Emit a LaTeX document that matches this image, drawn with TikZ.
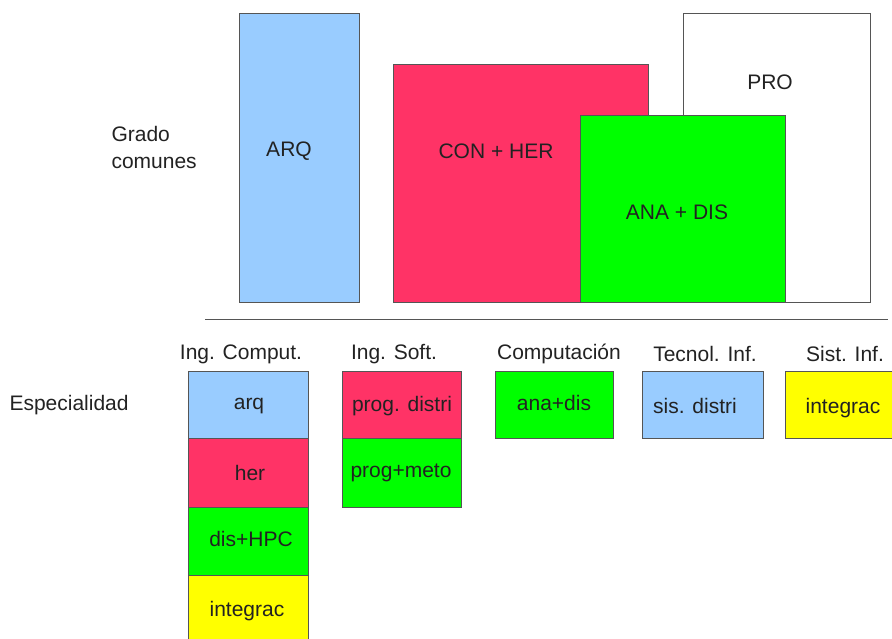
\documentclass[tikz,border=0pt]{standalone}
\usepackage{fontspec}
\setmainfont{Liberation Sans}
\definecolor{azul}{HTML}{99CCFF}
\definecolor{rojo}{HTML}{FF3366}
\definecolor{verde}{HTML}{00FF00}
\definecolor{amarillo}{HTML}{FFFF00}
\definecolor{borde}{HTML}{555555}
\definecolor{texto}{HTML}{222222}

\begin{document}
\begin{tikzpicture}[x=1pt, y=-1pt,
    caja/.style={draw=borde, line width=0.8pt},
    etiqueta/.style={text=texto, font=\fontsize{21}{25}\selectfont},
    nota/.style={text=texto, font=\fontsize{21}{27}\selectfont, align=left, anchor=west}]
			\clip (0,0) rectangle (892,638);

			% Grado: bloques comunes
			\filldraw[caja, fill=azul] (239,13) rectangle (359,302);
			\node[etiqueta] (arq) at (289,151) {ARQ};
			\filldraw[caja, fill=white] (683,13) rectangle (870,302);
			\node[etiqueta] (pro) at (770,82) {PRO};
			\filldraw[caja, fill=rojo] (393,64) rectangle (648,302);
			\node[etiqueta] (conher) at (496,151) {CON + HER};
			\filldraw[caja, fill=verde] (580,115) rectangle (785,302);
			\node[etiqueta] (anadis) at (677,212) {ANA + DIS};
			\node[nota] (grado) at (108,147) {Grado\\comunes};

			% Separador
			\draw[borde, line width=0.8pt] (205,319) -- (888,319);

			% Especialidades
			\node[nota] (esp) at (6,405) {Especialidad};
			\node[etiqueta] (ic) at (241,354) {Ing. Comput.};
			\node[etiqueta] (is) at (394,354) {Ing. Soft.};
			\node[etiqueta] (co) at (559,354) {Computación};
			\node[etiqueta] (ti) at (705,354) {Tecnol. Inf.};
			\node[etiqueta] (si) at (845,354) {Sist. Inf.};

			% Ing. Comput.
			\filldraw[caja, fill=azul] (188,371) rectangle (308,438);
			\node[etiqueta] (icarq) at (249,406) {arq};
			\filldraw[caja, fill=rojo] (188,438) rectangle (308,507);
			\node[etiqueta] (icher) at (250,473) {her};
			\filldraw[caja, fill=verde] (188,507) rectangle (308,575);
			\node[etiqueta] (icdis) at (251,539) {dis+HPC};
			\filldraw[caja, fill=amarillo] (188,575) rectangle (308,650);
			\node[etiqueta] (icint) at (247,611) {integrac};

			% Ing. Soft.
			\filldraw[caja, fill=rojo] (342,371) rectangle (461,438);
			\node[etiqueta] (isprog) at (402,406) {prog. distri};
			\filldraw[caja, fill=verde] (342,438) rectangle (461,507);
			\node[etiqueta] (ismeto) at (401,473) {prog+meto};

			% Resto
			\filldraw[caja, fill=verde] (495,371) rectangle (613,438);
			\node[etiqueta] (coana) at (554,403) {ana+dis};
			\filldraw[caja, fill=azul] (642,371) rectangle (763,438);
			\node[etiqueta] (tisis) at (695,406) {sis. distri};
			\filldraw[caja, fill=amarillo] (785,371) rectangle (900,438);
			\node[etiqueta] (siint) at (843,408) {integrac};

		\end{tikzpicture}
\end{document}
